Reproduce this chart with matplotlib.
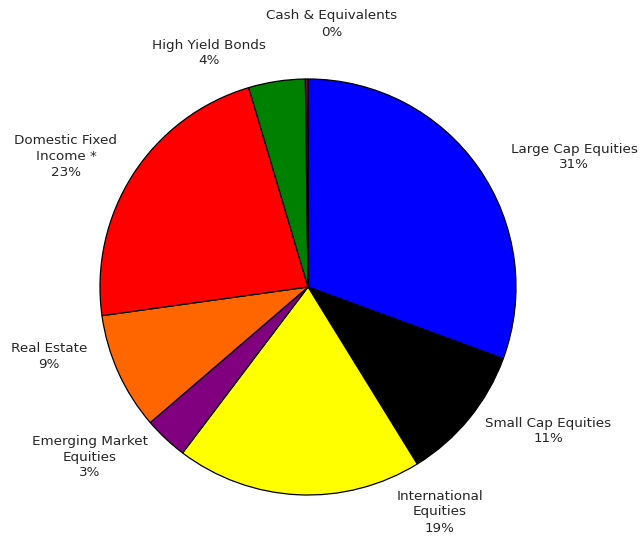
import matplotlib
matplotlib.use("Agg")
import matplotlib.pyplot as plt

# Asset allocation (percent of portfolio), clockwise from 12 o'clock
categories = [
    "Large Cap Equities",
    "Small Cap Equities",
    "International\nEquities",
    "Emerging Market\nEquities",
    "Real Estate",
    "Domestic Fixed\nIncome *",
    "High Yield Bonds",
    "Cash & Equivalents",
]
weights = [30.6, 10.6, 19.1, 3.4, 9.1, 22.6, 4.4, 0.2]
colors = ["#0000FF", "#000000", "#FFFF00", "#800080", "#FF6600",
          "#FF0000", "#008000", "#800040"]

W, H = 640, 537
fig = plt.figure(figsize=(W / 100, H / 100), dpi=100)
ax = fig.add_axes([0, 0, 1, 1])

cx, cy, r = 308, H - 287, 208
ax.pie(weights, colors=colors, startangle=90, counterclock=False,
       center=(cx, cy), radius=r, frame=True,
       wedgeprops=dict(edgecolor="black", linewidth=0.9))
ax.set_xlim(0, W)
ax.set_ylim(0, H)
ax.set_aspect("equal")
ax.axis("off")

# label anchor points (pixel positions, measured from the top-left)
label_pos = [(574, 157), (548, 431), (440, 512), (90, 457),
             (49, 357), (66, 156), (209, 53), (332, 24)]

for name, w, (lx, ly) in zip(categories, weights, label_pos):
    ax.text(lx, H - ly, f"{name}\n{w:.0f}%", ha="center", va="center",
            fontsize=9.7, color="#262626", linespacing=1.3,
            family="DejaVu Sans")

fig.savefig("out.png", dpi=100)
